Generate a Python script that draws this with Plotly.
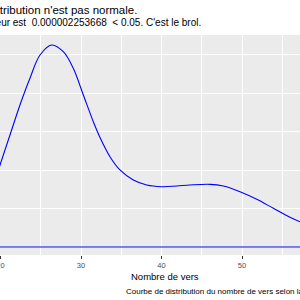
import plotly.graph_objects as go

# Density curve (x = nombre de vers, y = density)
vers = [19.5, 19.94, 21.18, 22.42, 23.66, 24.91, 26.36, 27.80, 29.04, 30.29, 31.53,
        32.36, 33.60, 34.84, 36.50, 38.16, 40.02, 41.89, 43.54, 46.02, 47.68,
        49.75, 51.83, 53.89, 55.96, 57.20, 57.8]
densite = [0.0093, 0.01068, 0.01458, 0.01849, 0.02197, 0.02500, 0.02630, 0.02543,
           0.02327, 0.01979, 0.01631, 0.01426, 0.01176, 0.01003, 0.00872, 0.00807,
           0.00785, 0.00794, 0.00807, 0.00816, 0.00794, 0.00720, 0.00621, 0.00504,
           0.00387, 0.00329, 0.00305]
x_ticks = [20, 30, 40, 50]
x_ticklabels = ["20", "30", "40", "50"]

title = "La distribution n'est pas normale."
subtitle = "La p-valeur est  0.000002253668  < 0.05. C'est le brol."
caption = "Courbe de distribution du nombre de vers selon la"
xlabel = "Nombre de vers"

W, H = 300, 300
mt, mb = 35, 45
ph = H - mt - mb


def py(p):
    return (H - mb - p) / ph


fig = go.Figure()
fig.add_trace(go.Scatter(x=vers, y=densite, mode="lines",
                         line=dict(color="#0000FF", width=1.1, shape="spline"),
                         hoverinfo="skip", showlegend=False))
fig.add_trace(go.Scatter(x=[vers[0], vers[-1]], y=[0, 0], mode="lines",
                         line=dict(color="#0000FF", width=1.1),
                         hoverinfo="skip", showlegend=False))

font = "Liberation Sans, Arial, sans-serif"
fig.update_layout(
    width=W, height=H,
    margin=dict(l=0, r=0, t=mt, b=mb, autoexpand=False),
    paper_bgcolor="white", plot_bgcolor="#EBEBEB",
    font=dict(family=font),
    xaxis=dict(range=[19.94, 57.2], tickvals=x_ticks, ticktext=x_ticklabels,
               showgrid=True, gridcolor="white", gridwidth=1.1, zeroline=False,
               ticks="outside", ticklen=3, tickcolor="#333333", tickwidth=1,
               tickfont=dict(size=7.5, color="#4D4D4D", family=font),
               ticklabeloverflow="allow", automargin=False,
               minor=dict(dtick=5, tick0=0, showgrid=True, gridcolor="white", gridwidth=0.5),
               showline=False, fixedrange=True),
    yaxis=dict(range=[-0.00104, 0.0276], dtick=0.01, tick0=0, showticklabels=False,
               showgrid=True, gridcolor="white", gridwidth=1.1, zeroline=False,
               automargin=False,
               minor=dict(dtick=0.005, tick0=0, showgrid=True, gridcolor="white", gridwidth=0.5),
               showline=False, fixedrange=True),
    annotations=[
        dict(text=title, xref="paper", yref="paper", x=139 / W, y=py(10),
             xanchor="right", yanchor="middle", showarrow=False,
             font=dict(size=11.5, color="black", family=font)),
        dict(text=subtitle, xref="paper", yref="paper", x=203 / W, y=py(22.5),
             xanchor="right", yanchor="middle", showarrow=False,
             font=dict(size=10, color="black", family=font)),
        dict(text=xlabel, xref="paper", yref="paper", x=165 / W, y=py(276.5),
             xanchor="center", yanchor="middle", showarrow=False,
             font=dict(size=9.5, color="black", family=font)),
        dict(text=caption, xref="paper", yref="paper", x=124 / W, y=py(291),
             xanchor="left", yanchor="middle", showarrow=False,
             font=dict(size=8, color="black", family=font)),
    ],
)

fig.write_html("out.html", config={"displayModeBar": False})
